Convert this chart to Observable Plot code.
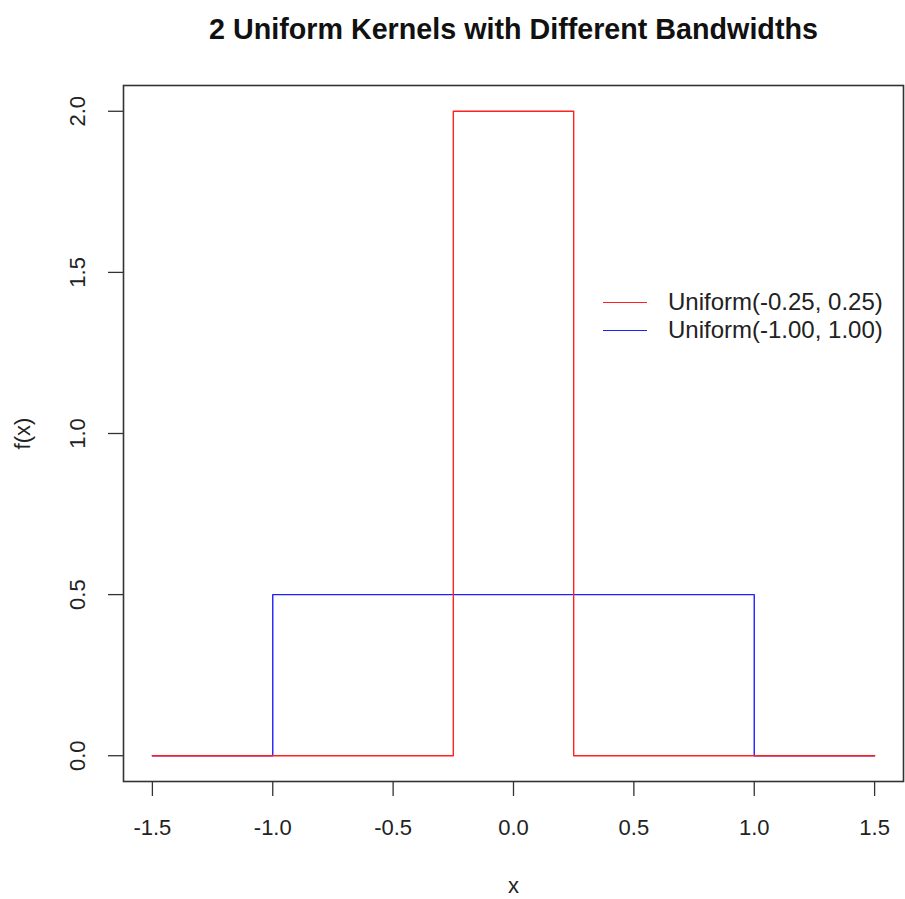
<!DOCTYPE html>
<html><head><meta charset="utf-8">
<script src="https://cdn.jsdelivr.net/npm/d3@7"></script>
<script src="https://cdn.jsdelivr.net/npm/@observablehq/plot@0.6"></script>
<style>
body{margin:0;background:#fff;}
#wrap{position:relative;width:905px;height:899px;font-family:"Liberation Sans",Arial,sans-serif;}
#legend{position:absolute;left:603px;top:288px;font-size:24px;color:#222;line-height:28px;}
#legend div{display:flex;align-items:center;}
#legend span.l{display:inline-block;width:44px;height:0;border-top:1.4px solid;margin-right:21px;}
</style>
</head><body><div id="wrap"><div id="legend"></div></div>
<script>
const title = "2 Uniform Kernels with Different Bandwidths";
const xLabel = "x";
const yLabel = "f(x)";
const xTicks = [-1.5, -1.0, -0.5, 0.0, 0.5, 1.0, 1.5];
const yTicks = [0.0, 0.5, 1.0, 1.5, 2.0];
// step breakpoints (step-after)
const redX = [-1.5, -0.25, 0.25, 1.5];
const redY = [0, 2, 0, 0];
const blueX = [-1.5, -1.0, 1.0, 1.5];
const blueY = [0, 0.5, 0, 0];
const seriesNames = ["Uniform(-0.25, 0.25)", "Uniform(-1.00, 1.00)"];
const seriesColors = ["#ff2020", "#2020ff"];

const red = redX.map((x, i) => ({x, y: redY[i]}));
const blue = blueX.map((x, i) => ({x, y: blueY[i]}));

const font = "\"Liberation Sans\", Arial, sans-serif";
const chart = Plot.plot({
  width: 905, height: 899,
  marginLeft: 123, marginRight: 2, marginTop: 85, marginBottom: 118,
  style: {fontFamily: font, fontSize: "22px", color: "#222", background: "#fff"},
  x: {domain: [-1.62, 1.62], label: null},
  y: {domain: [-0.08, 2.08], label: null},
  marks: [
    Plot.axisX(xTicks, {anchor: "bottom", tickSize: 15, tickFormat: () => "", label: null, stroke: "#333", strokeWidth: 1.3}),
    Plot.axisY(yTicks, {anchor: "left", tickSize: 15, tickFormat: () => "", label: null, stroke: "#333", strokeWidth: 1.3}),
    Plot.text(xTicks, {x: d => d, text: d => d.toFixed(1), frameAnchor: "bottom", dy: 46, lineAnchor: "middle", fontSize: 22, fill: "#222"}),
    Plot.text(yTicks, {y: d => d, text: d => d.toFixed(1), frameAnchor: "left", dx: -46, rotate: -90, textAnchor: "middle", lineAnchor: "middle", fontSize: 22, fill: "#222"}),
    Plot.line(blue, {x: "x", y: "y", curve: "step-after", stroke: seriesColors[1], strokeWidth: 1.4}),
    Plot.line(red, {x: "x", y: "y", curve: "step-after", stroke: seriesColors[0], strokeWidth: 1.4}),
    Plot.frame({stroke: "#333", strokeWidth: 1.6}),
    Plot.text([title], {text: d => d, frameAnchor: "top", dy: -56, lineAnchor: "middle", fontWeight: "bold", fontSize: 28.7, fill: "#111"}),
    Plot.text([xLabel], {text: d => d, frameAnchor: "bottom", dy: 104, lineAnchor: "middle", fontSize: 22, fill: "#222"}),
    Plot.text([yLabel], {text: d => d, frameAnchor: "left", dx: -101, rotate: -90, textAnchor: "middle", lineAnchor: "middle", fontSize: 22, fill: "#222"})
  ]
});
document.getElementById("wrap").prepend(chart);
const lg = document.getElementById("legend");
seriesNames.forEach((n, i) => {
  const row = document.createElement("div");
  const l = document.createElement("span"); l.className = "l"; l.style.borderTopColor = seriesColors[i];
  row.appendChild(l);
  row.appendChild(document.createTextNode(n));
  lg.appendChild(row);
});
</script></body></html>
